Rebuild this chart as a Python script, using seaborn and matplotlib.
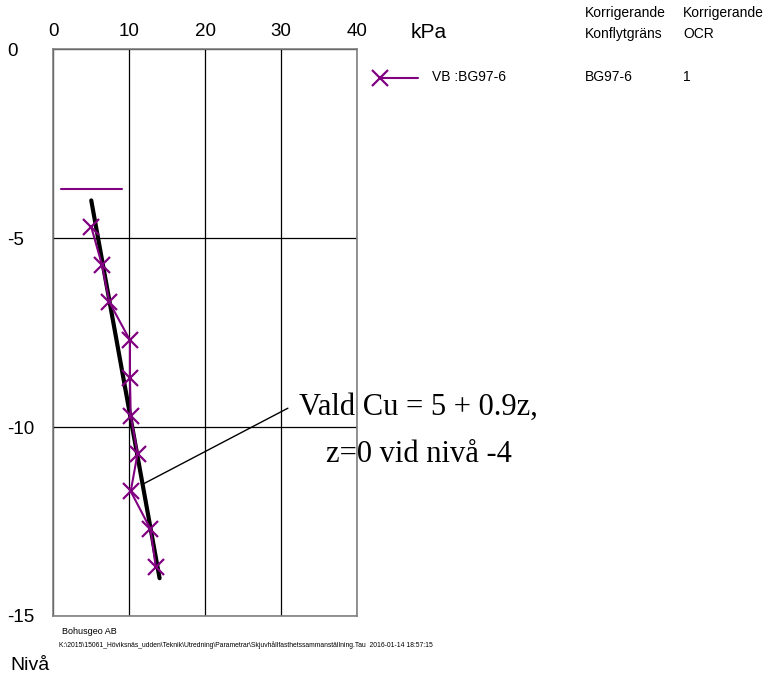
import matplotlib
matplotlib.use("Agg")
import matplotlib.pyplot as plt
from matplotlib.lines import Line2D
import seaborn as sns

# vingförsök VB BG97-6
niva = [-4.7, -5.7, -6.7, -7.7, -8.7, -9.7, -10.7, -11.7, -12.7, -13.7]
cu = [5.0, 6.4, 7.4, 10.1, 10.1, 10.2, 11.1, 10.2, 12.8, 13.5]

# konflytgräns-markering
kf_cu = [1.0, 9.1]
kf_niva = [-3.7, -3.7]

# vald Cu = 5 + 0.9z, z=0 vid nivå -4
vald_niva = [-4.0, -14.0]
vald_cu = [5.0, 14.0]

# pekarlinje till texten
pek_cu = [11.9, 30.9]
pek_niva = [-11.5, -9.5]

xticks = [0, 10, 20, 30, 40]
yticks = [0, -5, -10, -15]
ytick_labels = ["0", "-5", "-10", "-15"]

purple = "#800080"
grey = "#808080"

sns.set_style("white")
plt.rcParams["font.family"] = ["Liberation Sans", "DejaVu Sans"]
plt.rcParams["text.color"] = "black"
plt.rcParams["xtick.color"] = "black"
plt.rcParams["ytick.color"] = "black"

fig = plt.figure(figsize=(7.69, 6.79), dpi=100)
ax = fig.add_axes([0.0693, 0.0928, 0.3949, 0.8346])

sns.lineplot(x=vald_cu, y=vald_niva, sort=False, estimator=None, color="black", lw=3,
             ax=ax, zorder=4)
sns.lineplot(x=pek_cu, y=pek_niva, sort=False, estimator=None, color="black", lw=1, ax=ax, zorder=4)
sns.lineplot(x=cu, y=niva, sort=False, estimator=None, color=purple, lw=1.5,
             marker="x", markersize=11, markeredgewidth=1.6, markeredgecolor=purple,
             ax=ax, zorder=5)
sns.lineplot(x=kf_cu, y=kf_niva, sort=False, estimator=None, color=purple, lw=1.5, ax=ax, zorder=5)

serif = ["Liberation Serif", "DejaVu Serif"]
ax.text(48.1, -9.68, "Vald Cu = 5 + 0.9z,", ha="center", va="baseline",
        fontsize=22, family=serif, zorder=1)
ax.text(48.1, -10.92, "z=0 vid nivå -4", ha="center", va="baseline",
        fontsize=22, family=serif, zorder=1)

ax.set_xlim(0, 40)
ax.set_ylim(-15, 0)
ax.xaxis.tick_top()
ax.set_xticks(xticks)
ax.set_xticklabels([str(t) for t in xticks], fontsize=13.5)
ax.set_yticks(yticks)
ax.set_yticklabels(ytick_labels, fontsize=13.5, ha="left")
ax.tick_params(axis="x", length=0, pad=7)
ax.tick_params(axis="y", length=0, pad=33)
ax.set_xlabel("")
ax.set_ylabel("")

ax.grid(True, color="black", lw=0.9)
ax.set_axisbelow(False)
for s in ax.spines.values():
    s.set_visible(True)
    s.set_color(grey)
    s.set_linewidth(1.2)
    s.set_zorder(6)

fig.text(411 / 769, 1 - 33 / 679, "kPa", fontsize=15, va="center")

# legend
fig.add_artist(Line2D([380 / 769, 418 / 769], [1 - 78 / 679, 1 - 78 / 679], color=purple, lw=1.5))
fig.add_artist(Line2D([380 / 769], [1 - 78 / 679], color=purple, marker="x", markersize=11,
                      markeredgewidth=1.6, lw=0))
fig.text(432 / 769, 1 - 77 / 679, "VB :BG97-6", fontsize=10, va="center")
fig.text(585 / 769, 1 - 77 / 679, "BG97-6", fontsize=10, va="center")
fig.text(683 / 769, 1 - 77 / 679, "1", fontsize=10, va="center")
fig.text(585 / 769, 1 - 13 / 679, "Korrigerande", fontsize=10, va="center")
fig.text(585 / 769, 1 - 34 / 679, "Konflytgräns", fontsize=10, va="center")
fig.text(683 / 769, 1 - 13 / 679, "Korrigerande", fontsize=10, va="center")
fig.text(683 / 769, 1 - 34 / 679, "OCR", fontsize=10, va="center")

# footer
fig.text(62 / 769, 1 - 632 / 679, "Bohusgeo AB", fontsize=6.5, va="center")
fig.text(59 / 769, 1 - 645 / 679,
         "K:\\2015\\15061_Höviksnäs_udden\\Teknik\\Utredning\\Parametrar\\Skjuvhållfasthetssammanställning.Tau  2016-01-14 18:57:15",
         fontsize=4.9, va="center")
fig.text(10 / 769, 1 - 665 / 679, "Nivå", fontsize=14, va="center")

fig.savefig("out.png", dpi=100)
